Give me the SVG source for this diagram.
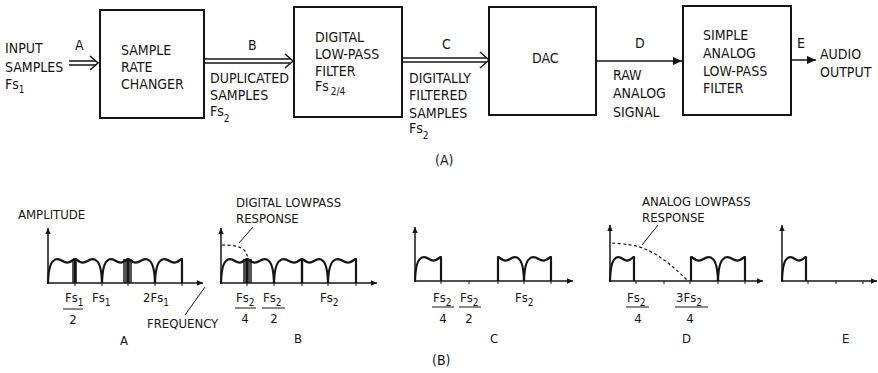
<svg xmlns="http://www.w3.org/2000/svg" xmlns:xlink="http://www.w3.org/1999/xlink" width="878" height="373" viewBox="0 0 878 373">
<style>
.t{font-family:"DejaVu Sans Condensed","DejaVu Sans",sans-serif;font-stretch:condensed;font-size:14px;fill:#151515}
.s{font-size:13px}
.sub{font-size:10px}
.m{text-anchor:middle}
.box{fill:none;stroke:#151515;stroke-width:2}
.ln{stroke:#151515;stroke-width:1.5;fill:none}
.thin{stroke:#151515;stroke-width:1;fill:none}
.lobe{fill:none;stroke:#151515;stroke-width:2.2;stroke-linejoin:round}
.dash{stroke:#151515;stroke-width:1.2;fill:none;stroke-dasharray:3 2.5}
.shade{fill:#555}
</style>
<defs>
<marker id="ah" viewBox="0 0 10 10" refX="10" refY="5" markerWidth="9" markerHeight="6" orient="auto" markerUnits="userSpaceOnUse"><path d="M0,0.5 L10,5 L0,9.5 z" fill="#151515"/></marker>
<marker id="fa" viewBox="0 0 10 10" refX="10" refY="5" markerWidth="12" markerHeight="9" orient="auto" markerUnits="userSpaceOnUse"><path d="M0,0.5 L10,5 L0,9.5 z" fill="#151515"/></marker>
<path id="lr" class="lobe" vector-effect="non-scaling-stroke" d="M0,0 C0.3,-10 1.5,-19 5,-22 C8,-25 11,-24 14,-22 C17,-20 19,-20 21,-21 C23,-22 24,-23 25.5,-24 L26,-24 L26,0"/>
</defs>

<g id="connectors">
  <g id="arrowA"><path class="ln" d="M69,61 H96 M69,65 H96"/><path class="ln" d="M90,56 L98,63 L90,70"/></g>
  <g id="arrowB"><path class="ln" d="M204,59 H290 M204,63 H290"/><path class="ln" d="M285,54 L293,61 L285,68"/></g>
  <g id="arrowC"><path class="ln" d="M402,58 H486 M402,62 H486"/><path class="ln" d="M480,52 L489,60 L480,68"/></g>
  <line id="arrowD" class="ln" x1="596" y1="61" x2="682" y2="61" marker-end="url(#fa)"/>
  <line id="arrowE" class="ln" x1="791" y1="60" x2="816" y2="60" marker-end="url(#fa)"/>
</g>

<g id="input">
  <text class="t" x="5" y="53">INPUT</text>
  <text class="t" x="5" y="72">SAMPLES</text>
  <text class="t" x="5" y="89">Fs<tspan class="sub" dy="4">1</tspan></text>
  <text class="t" x="75" y="50">A</text>
</g>

<g id="node-src">
  <rect class="box" x="100" y="10" width="104" height="108"/>
  <text class="t" x="121" y="55">SAMPLE</text>
  <text class="t" x="121" y="72">RATE</text>
  <text class="t" x="121" y="89">CHANGER</text>
</g>

<g id="label-B">
  <text class="t" x="248" y="50">B</text>
  <text class="t" x="210" y="83">DUPLICATED</text>
  <text class="t" x="210" y="100">SAMPLES</text>
  <text class="t" x="210" y="116">Fs<tspan class="sub" dy="6">2</tspan></text>
</g>

<g id="node-dlpf">
  <rect class="box" x="294" y="7" width="108" height="110"/>
  <text class="t" x="315" y="42">DIGITAL</text>
  <text class="t" x="315" y="59">LOW-PASS</text>
  <text class="t" x="315" y="76">FILTER</text>
  <text class="t" x="315" y="91">Fs<tspan class="sub" dy="4" dx="2">2/4</tspan></text>
</g>

<g id="label-C">
  <text class="t" x="442" y="49">C</text>
  <text class="t" x="409" y="83">DIGITALLY</text>
  <text class="t" x="409" y="100">FILTERED</text>
  <text class="t" x="409" y="118">SAMPLES</text>
  <text class="t" x="409" y="133">Fs<tspan class="sub" dy="6">2</tspan></text>
</g>

<g id="node-dac">
  <rect class="box" x="489" y="7" width="107" height="108"/>
  <text class="t" x="532" y="63">DAC</text>
</g>

<g id="label-D">
  <text class="t" x="635" y="48">D</text>
  <text class="t" x="613" y="80">RAW</text>
  <text class="t" x="613" y="98">ANALOG</text>
  <text class="t" x="613" y="117">SIGNAL</text>
</g>

<g id="node-alpf">
  <rect class="box" x="683" y="6" width="108" height="109"/>
  <text class="t" x="703" y="40">SIMPLE</text>
  <text class="t" x="703" y="58">ANALOG</text>
  <text class="t" x="703" y="76">LOW-PASS</text>
  <text class="t" x="703" y="93">FILTER</text>
</g>

<g id="output">
  <text class="t" x="797" y="48">E</text>
  <text class="t" x="820" y="59">AUDIO</text>
  <text class="t" x="820" y="77">OUTPUT</text>
</g>

<text class="t" x="435" y="165">(A)</text>

<!-- Spectrum A -->
<g id="spectrum-A">
  <text class="t s" x="18" y="219">AMPLITUDE</text>
  <rect class="shade" x="72" y="259" width="5" height="24"/>
  <rect class="shade" x="123" y="259" width="9" height="24"/>
  <line class="ln" x1="48" y1="284" x2="48" y2="228" marker-end="url(#ah)"/>
  <line class="ln" x1="47" y1="283" x2="203" y2="283" marker-end="url(#ah)"/>
  <path class="thin" d="M75,283 v3 M102,283 v3 M128,283 v3 M155,283 v3 M182,283 v3"/>
  <use xlink:href="#lr" transform="translate(48,283) scale(1.038,1)"/>
  <use xlink:href="#lr" transform="translate(102,283) scale(-1.038,1)"/>
  <use xlink:href="#lr" transform="translate(102,283)"/>
  <use xlink:href="#lr" transform="translate(155,283) scale(-1.038,1)"/>
  <use xlink:href="#lr" transform="translate(155,283) scale(1.038,1)"/>
  <text class="t s" x="65" y="302">Fs<tspan class="sub" dy="4">1</tspan></text>
  <line class="thin" x1="63" y1="309" x2="83" y2="309"/>
  <text class="t s m" x="73" y="324">2</text>
  <text class="t s" x="92" y="302">Fs<tspan class="sub" dy="4">1</tspan></text>
  <text class="t s" x="143" y="302">2Fs<tspan class="sub" dy="4">1</tspan></text>
  <line class="thin" x1="185" y1="315" x2="205" y2="287"/>
  <text class="t s" x="147" y="328">FREQUENCY</text>
  <text class="t s" x="120" y="345">A</text>
</g>

<!-- Spectrum B -->
<g id="spectrum-B">
  <text class="t s" x="236" y="207">DIGITAL LOWPASS</text>
  <text class="t s" x="236" y="223">RESPONSE</text>
  <line class="thin" x1="253" y1="227" x2="239" y2="243"/>
  <rect class="shade" x="243" y="259" width="9" height="24"/>
  <path class="dash" d="M222,245 C232,245 240,246 244,250 C247,253 248,257 248,262"/>
  <line class="ln" x1="221" y1="284" x2="221" y2="228" marker-end="url(#ah)"/>
  <line class="ln" x1="220" y1="283" x2="377" y2="283" marker-end="url(#ah)"/>
  <path class="thin" d="M247,283 v3 M274,283 v3 M302,283 v3 M328,283 v3 M356,283 v3"/>
  <use xlink:href="#lr" transform="translate(221,283)"/>
  <use xlink:href="#lr" transform="translate(274,283) scale(-1.038,1)"/>
  <use xlink:href="#lr" transform="translate(274,283) scale(1.077,1)"/>
  <use xlink:href="#lr" transform="translate(328,283) scale(-1,1)"/>
  <use xlink:href="#lr" transform="translate(328,283) scale(1.077,1)"/>
  <text class="t s" x="236" y="302">Fs<tspan class="sub" dy="4">2</tspan></text>
  <line class="thin" x1="235" y1="308" x2="256" y2="308"/>
  <text class="t s m" x="245" y="323">4</text>
  <text class="t s" x="263" y="302">Fs<tspan class="sub" dy="4">2</tspan></text>
  <line class="thin" x1="262" y1="308" x2="285" y2="308"/>
  <text class="t s m" x="274" y="323">2</text>
  <text class="t s" x="320" y="302">Fs<tspan class="sub" dy="4">2</tspan></text>
  <text class="t s" x="294" y="343">B</text>
</g>

<!-- Spectrum C -->
<g id="spectrum-C">
  <line class="ln" x1="415" y1="282" x2="415" y2="227" marker-end="url(#ah)"/>
  <line class="ln" x1="414" y1="281" x2="573" y2="281" marker-end="url(#ah)"/>
  <path class="thin" d="M441,281 v3 M469,281 v3 M498,281 v3 M524,281 v3 M551,281 v3"/>
  <use xlink:href="#lr" transform="translate(415,281)"/>
  <use xlink:href="#lr" transform="translate(524,281) scale(-1,1)"/>
  <use xlink:href="#lr" transform="translate(524,281) scale(1.038,1)"/>
  <text class="t s" x="433" y="302">Fs<tspan class="sub" dy="4">2</tspan></text>
  <line class="thin" x1="432" y1="307" x2="454" y2="307"/>
  <text class="t s m" x="443" y="323">4</text>
  <text class="t s" x="460" y="302">Fs<tspan class="sub" dy="4">2</tspan></text>
  <line class="thin" x1="459" y1="307" x2="481" y2="307"/>
  <text class="t s m" x="469" y="323">2</text>
  <text class="t s" x="515" y="302">Fs<tspan class="sub" dy="4">2</tspan></text>
  <text class="t s" x="490" y="343">C</text>
</g>

<text class="t" x="432" y="365">(B)</text>

<!-- Spectrum D -->
<g id="spectrum-D">
  <text class="t s" x="642" y="206">ANALOG LOWPASS</text>
  <text class="t s" x="642" y="222">RESPONSE</text>
  <line class="thin" x1="658" y1="225" x2="642" y2="245"/>
  <path class="dash" d="M612,243 C625,244 636,245 645,249 C660,255 675,268 687,280"/>
  <line class="ln" x1="610" y1="282" x2="610" y2="225" marker-end="url(#ah)"/>
  <line class="ln" x1="609" y1="281" x2="763" y2="281" marker-end="url(#ah)"/>
  <path class="thin" d="M636,281 v3 M664,281 v3 M690,281 v3 M718,281 v3 M745,281 v3"/>
  <use xlink:href="#lr" transform="translate(610,281) scale(0.923,1)"/>
  <use xlink:href="#lr" transform="translate(718,281) scale(-1.038,1)"/>
  <use xlink:href="#lr" transform="translate(718,281) scale(1.038,1)"/>
  <text class="t s" x="627" y="302">Fs<tspan class="sub" dy="4">2</tspan></text>
  <line class="thin" x1="626" y1="307" x2="649" y2="307"/>
  <text class="t s m" x="638" y="323">4</text>
  <text class="t s" x="676" y="302">3Fs<tspan class="sub" dy="4">2</tspan></text>
  <line class="thin" x1="675" y1="307" x2="708" y2="307"/>
  <text class="t s m" x="690" y="323">4</text>
  <text class="t s" x="682" y="343">D</text>
</g>

<!-- Spectrum E -->
<g id="spectrum-E">
  <line class="ln" x1="782" y1="282" x2="782" y2="225" marker-end="url(#ah)"/>
  <line class="ln" x1="781" y1="281" x2="877" y2="281" marker-end="url(#ah)"/>
  <path class="thin" d="M808,281 v3 M836,281 v3 M863,281 v3"/>
  <use xlink:href="#lr" transform="translate(782,281) scale(0.923,1)"/>
  <text class="t s" x="842" y="343">E</text>
</g>
</svg>
